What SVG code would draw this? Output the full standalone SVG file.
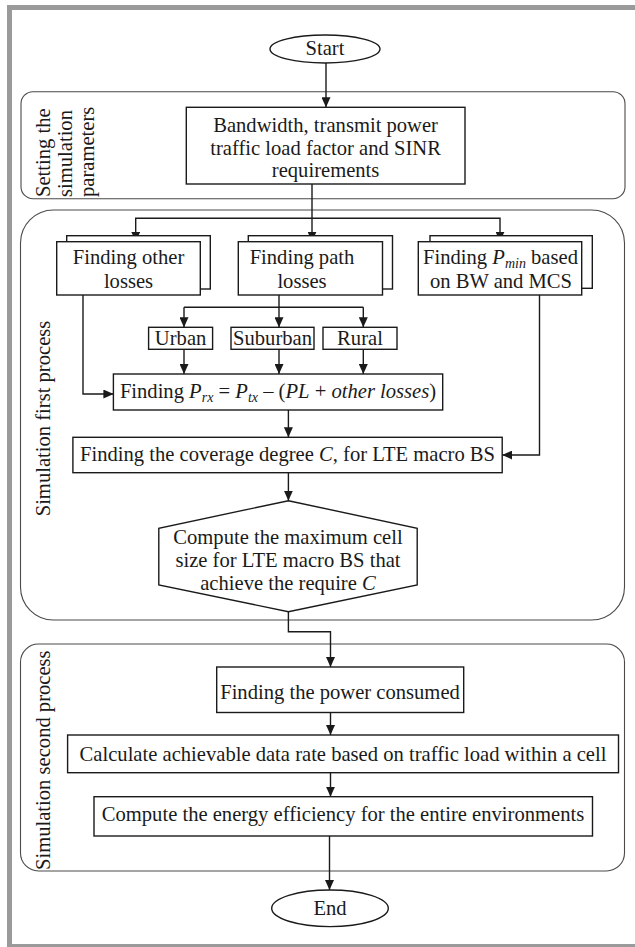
<svg xmlns="http://www.w3.org/2000/svg" width="635" height="947" viewBox="0 0 635 947">
<defs>
<style>
.t{font-family:"Liberation Serif","Times New Roman",serif;font-size:20.6px;fill:#1a1a1a}
.m{text-anchor:middle}
.i{font-style:italic}
.sub{font-size:14px;font-style:italic}
.box{fill:#fff;stroke:#1a1a1a;stroke-width:1.4}
.grp{fill:none;stroke:#4a4a4a;stroke-width:1.1}
.c{fill:none;stroke:#1a1a1a;stroke-width:1.4}
.ca{fill:none;stroke:#1a1a1a;stroke-width:1.4;marker-end:url(#ah)}
</style>
<marker id="ah" markerUnits="userSpaceOnUse" markerWidth="10" markerHeight="9" refX="10" refY="4.5" orient="auto">
<path d="M0,0 L10,4.5 L0,9 z" fill="#1a1a1a"/>
</marker>
</defs>
<rect x="0" y="0" width="635" height="947" fill="#fff"/>
<g id="frame" fill="#9a9a9a">
<rect x="7" y="5" width="628" height="5"/>
<rect x="7" y="5" width="5" height="942"/>
<rect x="7" y="944" width="628" height="3"/>
</g>
<g id="group-setting">
<rect class="grp" x="21" y="91.7" width="604" height="107" rx="12"/>
<text class="t" transform="translate(50,197) rotate(-90)">Setting the</text>
<text class="t" transform="translate(72,197) rotate(-90)">simulation</text>
<text class="t" transform="translate(94,197) rotate(-90)">parameters</text>
</g>
<g id="group-first">
<rect class="grp" x="20.5" y="210" width="604" height="410" rx="33"/>
<text class="t m" transform="translate(50,418.5) rotate(-90)">Simulation first process</text>
</g>
<g id="group-second">
<rect class="grp" x="20.5" y="644" width="604" height="227" rx="18"/>
<text class="t" transform="translate(50,870) rotate(-90)">Simulation second process</text>
</g>
<g id="connectors">
<path class="ca" d="M326,63 V107.3"/>
<path class="ca" d="M312,184 V241.7"/>
<path class="ca" d="M312,218.3 H135.7 V241.7"/>
<path class="ca" d="M312,218.3 H500 V241.7"/>
<path class="ca" d="M83,295 V394 H113.4"/>
<path class="c" d="M279,295 V307.3 M184,307.3 H363.3"/>
<path class="ca" d="M184,307.3 V327.3"/>
<path class="ca" d="M279,307.3 V327.3"/>
<path class="ca" d="M363.3,307.3 V327.3"/>
<path class="ca" d="M184,349.3 V374"/>
<path class="ca" d="M279,349.3 V374"/>
<path class="ca" d="M363.3,349.3 V374"/>
<path class="ca" d="M539.5,295 V455 H502.2"/>
<path class="ca" d="M288.4,410 V437.3"/>
<path class="ca" d="M288.4,472.7 V500.7"/>
<path class="ca" d="M288.4,611.7 V631.7 H330.5 V667"/>
<path class="ca" d="M330.5,712.5 V735"/>
<path class="ca" d="M330.5,772.7 V796.7"/>
<path class="ca" d="M329.5,836 V890"/>
</g>
<g id="start">
<ellipse class="box" cx="325" cy="49" rx="55" ry="14"/>
<text class="t m" x="325" y="55">Start</text>
</g>
<g id="params">
<rect class="box" x="186.3" y="107.3" width="278.7" height="76.7"/>
<text class="t m" x="325.6" y="132">Bandwidth, transmit power</text>
<text class="t m" x="325.6" y="154.5">traffic load factor and SINR</text>
<text class="t m" x="325.6" y="177">requirements</text>
</g>
<g id="other-losses">
<rect class="box" x="66.7" y="235.7" width="143.6" height="53.3"/>
<rect class="box" x="56.7" y="241.7" width="143.6" height="53.3"/>
<text class="t m" x="128.5" y="264">Finding other</text>
<text class="t m" x="128.5" y="287.5">losses</text>
</g>
<g id="path-losses">
<rect class="box" x="248.3" y="235.7" width="144.2" height="53.3"/>
<rect class="box" x="238.3" y="241.7" width="144.2" height="53.3"/>
<text class="t m" x="302" y="264">Finding path</text>
<text class="t m" x="302" y="287.5">losses</text>
</g>
<g id="pmin">
<rect class="box" x="430" y="235.7" width="162.3" height="52.6"/>
<rect class="box" x="418.3" y="241.7" width="163.4" height="53.3"/>
<text class="t m" x="500.5" y="264">Finding <tspan class="i">P</tspan><tspan class="sub" baseline-shift="-4">min</tspan> based</text>
<text class="t m" x="501" y="288">on BW and MCS</text>
</g>
<g id="urban">
<rect class="box" x="148.6" y="327.3" width="64" height="22"/>
<text class="t m" x="180.6" y="345.3">Urban</text>
</g>
<g id="suburban">
<rect class="box" x="231" y="327.3" width="83" height="22"/>
<text class="t m" x="272.5" y="345.3">Suburban</text>
</g>
<g id="rural">
<rect class="box" x="323" y="327.3" width="74" height="22"/>
<text class="t m" x="360" y="345.3">Rural</text>
</g>
<g id="prx">
<rect class="box" x="113.4" y="374" width="329.3" height="36"/>
<text class="t m" x="278" y="398">Finding <tspan class="i">P</tspan><tspan class="sub" baseline-shift="-4">rx</tspan> = <tspan class="i">P</tspan><tspan class="sub" baseline-shift="-4">tx</tspan> – (<tspan class="i">PL</tspan> + <tspan class="i">other losses</tspan>)</text>
</g>
<g id="coverage">
<rect class="box" x="72.9" y="437.3" width="429.3" height="35.4"/>
<text class="t m" x="287.5" y="461">Finding the coverage degree <tspan class="i">C</tspan>, for LTE macro BS</text>
</g>
<g id="max-cell">
<polygon class="box" points="288.4,500.7 417.2,528.3 417.2,585 288.4,611.7 158.8,585 158.8,528.3"/>
<text class="t m" x="288" y="544">Compute the maximum cell</text>
<text class="t m" x="288" y="567">size for LTE macro BS that</text>
<text class="t m" x="288" y="590">achieve the require <tspan class="i">C</tspan></text>
</g>
<g id="power">
<rect class="box" x="216.7" y="667" width="247" height="45.5"/>
<text class="t m" x="340" y="698.5">Finding the power consumed</text>
</g>
<g id="datarate">
<rect class="box" x="67.6" y="735" width="550.9" height="37.7"/>
<text class="t m" x="343" y="760.5">Calculate achievable data rate based on traffic load within a cell</text>
</g>
<g id="efficiency">
<rect class="box" x="94" y="796.7" width="498.5" height="39.3"/>
<text class="t m" x="343" y="821">Compute the energy efficiency for the entire environments</text>
</g>
<g id="end">
<ellipse class="box" cx="330" cy="908.3" rx="58.3" ry="18.3"/>
<text class="t m" x="330" y="915">End</text>
</g>
</svg>
